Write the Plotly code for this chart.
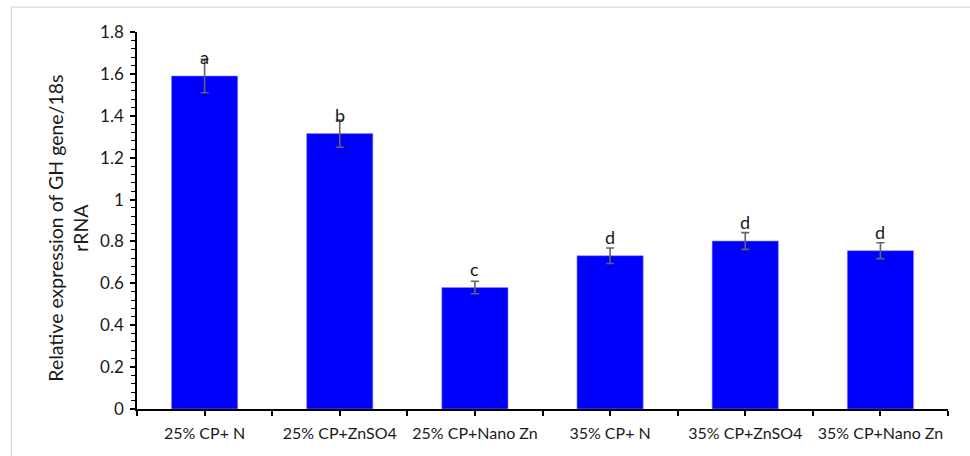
import plotly.graph_objects as go

categories = ["25% CP+ N", "25% CP+ZnSO4", "25% CP+Nano Zn", "35% CP+ N", "35% CP+ZnSO4", "35% CP+Nano Zn"]
values = [1.59, 1.315, 0.58, 0.732, 0.802, 0.756]
errors = [0.08, 0.065, 0.03, 0.037, 0.04, 0.038]
letters = ["a", "b", "c", "d", "d", "d"]
y_ticks = [0, 0.2, 0.4, 0.6, 0.8, 1.0, 1.2, 1.4, 1.6, 1.8]
y_title = "Relative expression of GH gene/18s<br>rRNA"

FONT = "Lato"
xs = list(range(len(categories)))

fig = go.Figure()
fig.add_trace(go.Bar(
    x=xs, y=values, width=0.49,
    marker=dict(color="#0000FF", line=dict(color="#8c8cff", width=0.6)),
    error_y=dict(type="data", array=errors, visible=True, color="#636363", thickness=1.6, width=4),
    hoverinfo="skip",
))

for x, v, t in zip(xs, values, letters):
    fig.add_annotation(x=x, y=v, text=t, showarrow=False, yshift=19,
                       font=dict(family=FONT, size=18, color="#1a1a1a"),
                       xanchor="center", yanchor="middle")

fig.add_annotation(xref="paper", yref="paper", x=-0.0855, y=0.48, text=y_title,
                   textangle=-90, showarrow=False, xanchor="center", yanchor="middle",
                   font=dict(family=FONT, size=19.5, color="#1a1a1a"))

# outer frame
fig.add_shape(type="rect", xref="paper", yref="paper", x0=-0.155, y0=-0.14, x1=1.04, y1=1.066,
              line=dict(color="#d9d9d9", width=1.2), fillcolor="rgba(0,0,0,0)", layer="below")

half_ticks = [i * 0.5 - 0.5 for i in range(2 * len(categories) + 1)]
tick_text = [categories[int(v)] if float(v).is_integer() else "" for v in half_ticks]

fig.update_layout(
    width=970, height=456,
    margin=dict(l=137, r=22, t=32, b=47),
    paper_bgcolor="white", plot_bgcolor="white",
    showlegend=False,
    font=dict(family=FONT, color="#1a1a1a"),
    xaxis=dict(range=[-0.5, 5.5], tickvals=half_ticks, ticktext=tick_text,
               showline=True, linecolor="black", linewidth=1.5,
               ticks="outside", ticklen=5, tickcolor="black", tickwidth=1.5,
               showgrid=False, zeroline=False, tickfont=dict(family=FONT, size=16, color="#1a1a1a"),
               ticklabelstandoff=4),
    yaxis=dict(range=[0, 1.8], tickvals=y_ticks, showline=True, linecolor="black", linewidth=1.5,
               ticks="outside", ticklen=5, tickcolor="black", tickwidth=1.5,
               minor=dict(dtick=0.04, ticks="outside", ticklen=4, tickcolor="black", tickwidth=1),
               showgrid=False, zeroline=False, tickfont=dict(family=FONT, size=17, color="#1a1a1a"),
               ticklabelstandoff=3),
)

fig.write_html("out.html", config={"displayModeBar": False},
               post_script="document.body.style.margin='0';document.body.style.overflow='hidden';")
